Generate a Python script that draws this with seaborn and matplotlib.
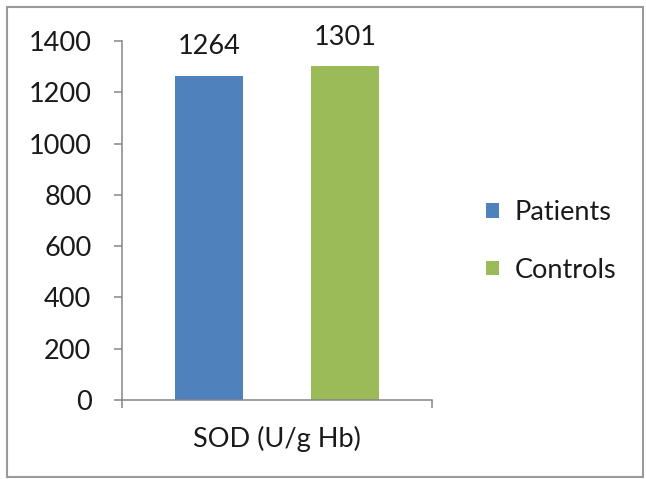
import matplotlib
matplotlib.use("Agg")
import matplotlib.pyplot as plt
from matplotlib.patches import Rectangle
from matplotlib.ticker import FixedLocator
import seaborn as sns
import pandas as pd

# Mean SOD activity per group
metric = ["SOD (U/g Hb)"]
groups = ["Patients", "Controls"]
values = [1264, 1301]
colors = ["#4F81BD", "#9BBB59"]
yticks = [0, 200, 400, 600, 800, 1000, 1200, 1400]

df = pd.DataFrame({
    "metric": metric * len(groups),
    "group": groups,
    "value": values,
})

sns.set_theme(style="white")
plt.rcParams["font.family"] = ["Lato", "DejaVu Sans"]
text_color = "#1a1a1a"
axis_color = "#868686"
fs = 19.5

fig = plt.figure(figsize=(6.46, 4.79), dpi=100)
ax = fig.add_axes([122 / 646, 1 - 400 / 479, 310 / 646, 359 / 479])

sns.barplot(data=df, x="metric", y="value", hue="group", hue_order=groups,
            palette=colors, width=0.88, gap=0.5, saturation=1,
            edgecolor="none", ax=ax, legend=True)

ax.set_ylim(0, 1400)
ax.set_xlim(-0.5, 0.5)
ax.set_yticks(yticks)
ax.set_yticklabels([str(v) for v in yticks])
ax.set_xlabel("")
ax.set_ylabel("")

for c in ax.containers:
    ax.bar_label(c, fmt="%d", padding=12, fontsize=fs, color=text_color)

for s in ["top", "right"]:
    ax.spines[s].set_visible(False)
for s in ["left", "bottom"]:
    ax.spines[s].set_color(axis_color)
    ax.spines[s].set_linewidth(1.1)

ax.tick_params(axis="y", which="major", direction="out", length=6, width=1.1,
               color=axis_color, labelsize=fs, labelcolor=text_color, pad=16,
               left=True)
ax.tick_params(axis="x", which="major", length=0, labelsize=fs,
               labelcolor=text_color, pad=19)
# category boundary ticks on the x axis
ax.xaxis.set_minor_locator(FixedLocator([-0.5, 0.5]))
ax.tick_params(axis="x", which="minor", direction="out", length=6, width=1.1,
               color=axis_color, bottom=True)

handles, labels = ax.get_legend_handles_labels()
ax.legend(handles, labels, loc="center left",
          bbox_to_anchor=(462 / 646, 1 - 241.5 / 479),
          bbox_transform=fig.transFigure, frameon=False, fontsize=fs,
          handlelength=0.45, handleheight=0.45, handletextpad=0.6,
          labelspacing=1.2, labelcolor=text_color, title=None)

# chart frame
fig.patches.append(Rectangle((7 / 646, 2 / 479), 636 / 646, 470 / 479,
                             transform=fig.transFigure, fill=False,
                             edgecolor="#9a9a9a", linewidth=1.5))

fig.savefig("out.png", dpi=100)
